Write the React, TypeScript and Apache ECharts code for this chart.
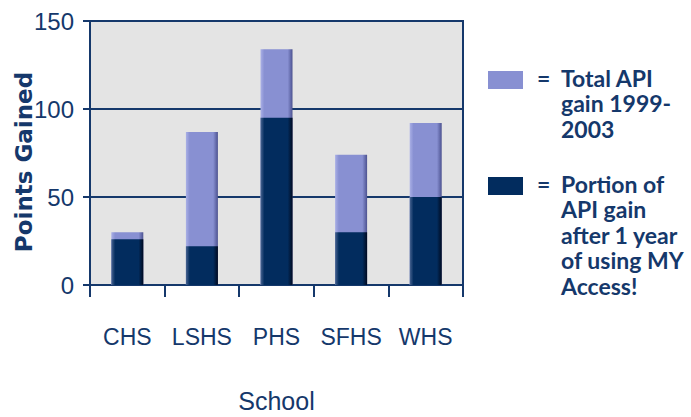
import React, { useEffect, useRef } from "react";
import * as echarts from "echarts";

const schools = ["CHS", "LSHS", "PHS", "SFHS", "WHS"];
const totalGain = [30, 87, 134, 74, 92];
const portionAfterOneYear = [26, 22, 95, 30, 50];
const yTicks = [0, 50, 100, 150];
const legendTotal = ["Total API", "gain 1999-", "2003"];
const legendPortion = ["Portion of", "API gain", "after 1 year", "of using MY", "Access!"];

const NAVY = "#15386b";
const LIGHT = "#8890d2";
const DARK = "#022c5e";
const BOLD = 'Lato, "Noto Sans", sans-serif';
const SANS = '"Liberation Sans", Arial, sans-serif';

const grad = (edgeL: string, mid: string, edgeR: string) =>
  new echarts.graphic.LinearGradient(0, 0, 1, 0, [
    { offset: 0, color: edgeL },
    { offset: 0.12, color: mid },
    { offset: 0.85, color: mid },
    { offset: 1, color: edgeR },
  ]);

export default function App() {
  const ref = useRef<HTMLDivElement>(null);
  useEffect(() => {
    if (!ref.current) return;
    const chart = echarts.init(ref.current, undefined, { renderer: "svg" });
    const legendText = (lines: string[], x: number, y: number) =>
      lines.map((t, i) => ({
        type: "text",
        left: x,
        top: y + i * 25.5,
        style: { text: t, fill: NAVY, font: `bold 23px ${BOLD}` },
      }));
    chart.setOption({
      animation: false,
      backgroundColor: "#ffffff",
      grid: {
        left: 90,
        right: 228,
        top: 21,
        bottom: 132,
        outerBoundsMode: "none",
        show: true,
        backgroundColor: "#e4e4e4",
        borderColor: NAVY,
        borderWidth: 2,
      },
      xAxis: {
        type: "category",
        data: schools,
        boundaryGap: true,
        name: "School",
        nameLocation: "middle",
        nameGap: 103,
        nameMoveOverlap: false,
        nameTextStyle: { color: NAVY, fontFamily: SANS, fontSize: 25 },
        axisLine: { lineStyle: { color: NAVY, width: 2 } },
        axisTick: { show: true, interval: 0, length: 12, lineStyle: { color: NAVY, width: 2 } },
        axisLabel: { color: NAVY, fontFamily: SANS, fontSize: 23, margin: 40, interval: 0 },
      },
      yAxis: {
        type: "value",
        min: yTicks[0],
        max: yTicks[yTicks.length - 1],
        interval: 50,
        name: "Points Gained",
        nameLocation: "middle",
        nameGap: 55,
        nameMoveOverlap: false,
        nameTextStyle: {
          color: NAVY,
          fontFamily: '"DejaVu Sans", sans-serif',
          fontWeight: "bold",
          fontSize: 23,
          padding: [0, 18, 0, 0],
        },
        axisLine: { show: true, lineStyle: { color: NAVY, width: 2 } },
        axisTick: { show: true, length: 7, lineStyle: { color: NAVY, width: 2 } },
        axisLabel: { color: NAVY, fontFamily: SANS, fontSize: 24, margin: 16 },
        splitLine: { show: true, lineStyle: { color: NAVY, width: 2 } },
      },
      series: [
        {
          name: "Total API gain 1999-2003",
          type: "bar",
          data: totalGain,
          barWidth: 32,
          barGap: "-100%",
          itemStyle: { color: grad("#aab0e6", LIGHT, "#4c5290") },
          z: 2,
        },
        {
          name: "Portion of API gain after 1 year of using MY Access!",
          type: "bar",
          data: portionAfterOneYear,
          barWidth: 32,
          barGap: "-100%",
          itemStyle: { color: grad("#4a6592", DARK, "#000a20") },
          z: 3,
        },
      ],
      graphic: [
        { type: "rect", shape: { x: 488, y: 71, width: 35, height: 18 }, style: { fill: LIGHT } },
        { type: "rect", shape: { x: 488, y: 177, width: 35, height: 18 }, style: { fill: DARK } },
        { type: "text", left: 537, top: 66, style: { text: "=", fill: NAVY, font: `bold 23px ${BOLD}` } },
        { type: "text", left: 537, top: 172, style: { text: "=", fill: NAVY, font: `bold 23px ${BOLD}` } },
        ...legendText(legendTotal, 561, 66),
        ...legendText(legendPortion, 561, 172),
      ],
    });
    return () => chart.dispose();
  }, []);
  return <div ref={ref} style={{ width: 691, height: 417, position: "absolute", left: 0, top: 0 }} />;
}
